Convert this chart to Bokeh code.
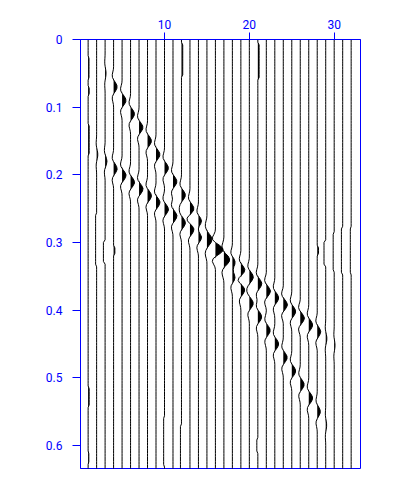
import numpy as np
from bokeh.plotting import figure
from bokeh.models import Range1d, FixedTicker, NumeralTickFormatter
from bokeh.embed import file_html
from bokeh.resources import INLINE

# ---------------- data ----------------
trace_numbers = list(range(1, 33))
sample_interval = 0.004
record_length = 0.636

x_tick_values = [10, 20, 30]
y_tick_values = [0, 0.1, 0.2, 0.3, 0.4, 0.5, 0.6]

# steep event: trace, peak time (s), relative amplitude (trace units)
steep_traces = list(range(3, 30))
steep_times = [0.050, 0.070, 0.090, 0.110, 0.130, 0.150, 0.170, 0.190, 0.210,
               0.230, 0.250, 0.270, 0.290, 0.310, 0.330, 0.350, 0.370, 0.390,
               0.410, 0.430, 0.450, 0.470, 0.490, 0.510, 0.530, 0.550, 0.570]
steep_amps = [0.12, 0.45] + [0.5] * 23 + [0.4, 0.12]

# gentle event
gentle_traces = list(range(2, 31))
gentle_times = [0.170, 0.180, 0.191, 0.201, 0.211, 0.221, 0.231, 0.241, 0.251,
                0.261, 0.271, 0.281, 0.291, 0.301, 0.311, 0.321, 0.331, 0.341,
                0.351, 0.361, 0.372, 0.382, 0.392, 0.402, 0.412, 0.422, 0.432,
                0.442, 0.452]
gentle_amps = [0.15, 0.22, 0.45] + [0.5] * 23 + [0.42, 0.15, 0.1]

# wavelet samples (4 ms apart, centred on the peak)
wavelet = [0.0, -0.1, -0.3, -0.4, -0.2, 0.3, 0.75, 1.0,
           0.75, 0.3, -0.2, -0.4, -0.3, -0.1, 0.0]

# small static offsets visible on single traces
bump_trace = [1, 1, 1, 1, 1, 2, 3, 4, 10, 12, 12, 21, 21, 28, 29, 30, 31, 32]
bump_start = [0.028, 0.070, 0.128, 0.515, 0.610, 0.258, 0.297, 0.308, 0.560,
              0.005, 0.570, 0.005, 0.590, 0.308, 0.297, 0.285, 0.280, 0.280]
bump_end = [0.058, 0.080, 0.168, 0.540, 0.625, 0.332, 0.330, 0.319, 0.630,
            0.055, 0.640, 0.058, 0.610, 0.319, 0.332, 0.342, 0.347, 0.347]
bump_offset = [0.1, 0.12, 0.12, 0.12, 0.08, -0.12, -0.2, 0.15, -0.1,
               0.15, -0.12, 0.15, -0.12, 0.15, -0.2, -0.12, -0.15, -0.1]

# ---------------- build traces ----------------
t = np.arange(0, record_length + 1e-9, sample_interval)
half = (len(wavelet) - 1) // 2
lags = np.arange(-half, half + 1) * sample_interval
wav = np.array(wavelet)


def trace_amplitude(n):
    a = np.zeros_like(t)
    for tr_list, times, amps in ((steep_traces, steep_times, steep_amps),
                                 (gentle_traces, gentle_times, gentle_amps)):
        if n in tr_list:
            k = tr_list.index(n)
            a += amps[k] * np.interp(t - times[k], lags, wav, left=0, right=0)
    for bt, bs, be, bo in zip(bump_trace, bump_start, bump_end, bump_offset):
        if bt == n:
            a += np.where((t >= bs - 1e-9) & (t <= be + 1e-9), bo, 0.0)
    return a


p = figure(frame_width=280, frame_height=429,
           x_range=Range1d(0.1, 33.1), y_range=Range1d(0.634, 0),
           x_axis_location="above", output_backend="svg",
           toolbar_location=None,
           min_border_left=80, min_border_top=39,
           min_border_right=20, min_border_bottom=15)

xs, ys = [], []
for n in trace_numbers:
    a = trace_amplitude(n)
    x = n + a
    p.harea(x1=np.full_like(t, float(n)), x2=np.maximum(x, n), y=t,
            fill_color="black", fill_alpha=1.0)
    xs.append(list(x))
    ys.append(list(t))

p.multi_line(xs=xs, ys=ys, line_color="black", line_width=1)

blue = "#0000ff"
font = "Roboto"
p.xgrid.grid_line_color = None
p.ygrid.grid_line_color = None
p.outline_line_color = blue
p.outline_line_alpha = 1.0
p.outline_line_width = 1
p.background_fill_color = "white"
p.border_fill_color = "white"

p.xaxis.ticker = FixedTicker(ticks=x_tick_values)
p.yaxis.ticker = FixedTicker(ticks=y_tick_values)
p.yaxis.formatter = NumeralTickFormatter(format="0.[0]")
for ax, tick_len, standoff in ((p.xaxis, 7, 4), (p.yaxis, 8, 10)):
    ax.axis_line_color = blue
    ax.major_tick_line_color = blue
    ax.minor_tick_line_color = None
    ax.major_tick_out = tick_len
    ax.major_tick_in = 0
    ax.major_label_text_color = blue
    ax.major_label_text_font = font
    ax.major_label_text_font_size = "12px"
    ax.major_label_standoff = standoff

open("out.html", "w").write(file_html(p, INLINE))
